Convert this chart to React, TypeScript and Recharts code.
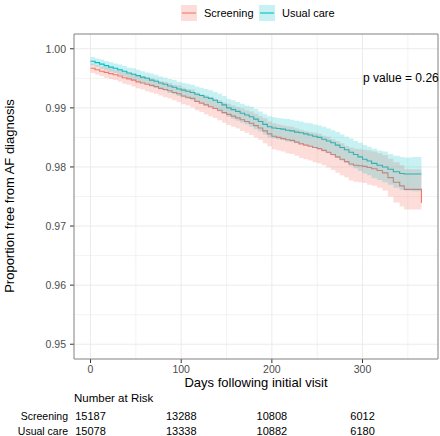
import React from "react";
import {
  ComposedChart,
  Area,
  Line,
  XAxis,
  YAxis,
  CartesianGrid,
  ReferenceArea,
} from "recharts";

// Kaplan-Meier curves (days since initial visit).
const DAYS = [
  0, 5, 10, 15, 20, 25, 30, 35, 40, 45,
  50, 55, 60, 65, 70, 75, 80, 85, 90, 95,
  100, 105, 110, 115, 120, 125, 130, 135, 140, 145,
  150, 155, 160, 165, 170, 175, 180, 185, 190, 195,
  200, 205, 210, 215, 220, 225, 230, 235, 240, 245,
  250, 255, 260, 265, 270, 275, 280, 285, 290, 295,
  300, 305, 310, 316, 322, 328, 334, 341, 346, 355,
  364, 365,
];

const USUAL = [
  0.9979, 0.99765, 0.9974, 0.99715, 0.9969, 0.9967, 0.99645, 0.9962, 0.9959, 0.9957,
  0.99545, 0.9952, 0.995, 0.9947, 0.9945, 0.9942, 0.994, 0.9937, 0.9935, 0.9932,
  0.993, 0.9928, 0.9926, 0.9923, 0.9921, 0.9918, 0.9916, 0.9913, 0.9909, 0.9905,
  0.99, 0.9897, 0.9894, 0.9891, 0.9888, 0.9885, 0.9881, 0.9877, 0.9872, 0.9868,
  0.9866, 0.9865, 0.9864, 0.9862, 0.9861, 0.9859, 0.9858, 0.9856, 0.9854, 0.9852,
  0.985, 0.9847, 0.9844, 0.9841, 0.9837, 0.9833, 0.9829, 0.9825, 0.9821, 0.9817,
  0.9813, 0.981, 0.9806, 0.9803, 0.98, 0.9796, 0.9792, 0.9789, 0.9788, 0.9788,
  0.9788, 0.9788,
];
const USUAL_LO = [
  0.9972, 0.99695, 0.9966, 0.99635, 0.9961, 0.9959, 0.99555, 0.9953, 0.995, 0.9947,
  0.99445, 0.9942, 0.994, 0.9936, 0.9934, 0.9931, 0.9929, 0.9925, 0.9923, 0.992,
  0.9918, 0.9915, 0.9913, 0.991, 0.9908, 0.9904, 0.9902, 0.9899, 0.9894, 0.989,
  0.9885, 0.9881, 0.9878, 0.9875, 0.9872, 0.9868, 0.9864, 0.986, 0.9855, 0.985,
  0.9848, 0.9847, 0.9846, 0.9843, 0.9842, 0.984, 0.9839, 0.9837, 0.9834, 0.9832,
  0.983, 0.9826, 0.9823, 0.982, 0.9815, 0.9811, 0.9807, 0.9802, 0.9798, 0.9793,
  0.9789, 0.9786, 0.9781, 0.9778, 0.9774, 0.977, 0.9765, 0.9761, 0.976, 0.9759,
  0.9759, 0.9759,
];
const USUAL_HI = [
  0.9986, 0.99835, 0.9982, 0.99795, 0.9977, 0.9975, 0.99735, 0.9971, 0.9968, 0.9967,
  0.99645, 0.9962, 0.996, 0.9958, 0.9956, 0.9953, 0.9951, 0.9949, 0.9947, 0.9944,
  0.9942, 0.9941, 0.9939, 0.9936, 0.9934, 0.9932, 0.993, 0.9927, 0.9924, 0.992,
  0.9915, 0.9913, 0.991, 0.9907, 0.9904, 0.9902, 0.9898, 0.9894, 0.9889, 0.9886,
  0.9884, 0.9883, 0.9882, 0.9881, 0.988, 0.9878, 0.9877, 0.9875, 0.9874, 0.9872,
  0.987, 0.9868, 0.9865, 0.9862, 0.9859, 0.9855, 0.9851, 0.9848, 0.9844, 0.9841,
  0.9837, 0.9834, 0.9831, 0.9828, 0.9826, 0.9822, 0.9819, 0.9817, 0.9816, 0.9817,
  0.9817, 0.9817,
];

const SCREENING = [
  0.9967, 0.99645, 0.9962, 0.996, 0.9958, 0.9956, 0.9954, 0.9951, 0.9949, 0.9947,
  0.9944, 0.9942, 0.994, 0.9938, 0.9936, 0.9933, 0.9931, 0.9929, 0.9926, 0.9924,
  0.992, 0.9918, 0.9916, 0.9911, 0.9908, 0.9905, 0.9902, 0.9899, 0.9896, 0.9892,
  0.9889, 0.9886, 0.9883, 0.988, 0.9877, 0.9874, 0.987, 0.9866, 0.9861, 0.9856,
  0.9852, 0.985, 0.9848, 0.9846, 0.9845, 0.9842, 0.9839, 0.9837, 0.9835, 0.9833,
  0.9831, 0.9828, 0.9825, 0.9821, 0.9817, 0.9813, 0.9809, 0.9805, 0.9803, 0.9802,
  0.9801, 0.9799, 0.9797, 0.9794, 0.979, 0.9782, 0.9774, 0.9768, 0.9762, 0.9762,
  0.9762, 0.9739,
];
const SCREENING_LO = [
  0.9959, 0.99565, 0.9954, 0.9951, 0.9949, 0.9947, 0.9944, 0.9941, 0.9939, 0.9936,
  0.9933, 0.9931, 0.9928, 0.9926, 0.9924, 0.9921, 0.9918, 0.9916, 0.9913, 0.991,
  0.9906, 0.9904, 0.9901, 0.9896, 0.9893, 0.9889, 0.9886, 0.9883, 0.9879, 0.9875,
  0.9871, 0.9868, 0.9865, 0.9861, 0.9858, 0.9854, 0.985, 0.9846, 0.984, 0.9835,
  0.983, 0.9828, 0.9826, 0.9823, 0.9822, 0.9819, 0.9815, 0.9813, 0.9811, 0.9808,
  0.9806, 0.9803, 0.9799, 0.9795, 0.979, 0.9786, 0.9782, 0.9777, 0.9775, 0.9774,
  0.9773, 0.977, 0.9768, 0.9765, 0.976, 0.975, 0.974, 0.9733, 0.9728, 0.9728,
  0.9728, 0.9683,
];
const SCREENING_HI = [
  0.9975, 0.99725, 0.997, 0.9969, 0.9967, 0.9965, 0.9964, 0.9961, 0.9959, 0.9958,
  0.9955, 0.9953, 0.9952, 0.995, 0.9948, 0.9945, 0.9944, 0.9942, 0.9939, 0.9938,
  0.9934, 0.9932, 0.9931, 0.9926, 0.9923, 0.9921, 0.9918, 0.9915, 0.9913, 0.9909,
  0.9907, 0.9904, 0.9901, 0.9899, 0.9896, 0.9894, 0.989, 0.9886, 0.9882, 0.9877,
  0.9874, 0.9872, 0.987, 0.9869, 0.9868, 0.9865, 0.9863, 0.9861, 0.9859, 0.9858,
  0.9856, 0.9853, 0.9851, 0.9847, 0.9844, 0.984, 0.9836, 0.9833, 0.9831, 0.983,
  0.9829, 0.9828, 0.9826, 0.9823, 0.982, 0.9814, 0.9808, 0.9803, 0.9796, 0.9796,
  0.9796, 0.9795,
];

const X_TICKS = [0, 100, 200, 300];
const X_MINOR = [50, 150, 250, 350];
const Y_TICKS = [0.95, 0.96, 0.97, 0.98, 0.99, 1.0];
const Y_MINOR = [0.955, 0.965, 0.975, 0.985, 0.995];
const X_DOMAIN = [-18.25, 383.25];
const Y_DOMAIN = [0.9475, 1.0025];

const GROUPS = ["Screening", "Usual care"];
const RISK_SCREENING = [15187, 13288, 10808, 6012];
const RISK_USUAL = [15078, 13338, 10882, 6180];
const P_VALUE = "0.26";

const RED = "#F8766D";
const TEAL = "#00BFC4";
const FONT = '"Liberation Sans", Arial, Helvetica, sans-serif';

const data = DAYS.map((d, i) => ({
  d,
  s: SCREENING[i],
  sBand: [SCREENING_LO[i], SCREENING_HI[i]],
  u: USUAL[i],
  uBand: [USUAL_LO[i], USUAL_HI[i]],
}));

// x tick + the number-at-risk rows sitting under the same position
function DayTick(props: any) {
  const { x, y, payload, index } = props;
  return (
    <g fontFamily={FONT}>
      <text x={x} y={y + 8} textAnchor="middle" fontSize={10.5} fill="#4D4D4D">
        {payload.value}
      </text>
      <text x={x} y={y + 55} textAnchor="middle" fontSize={11} fill="#000">
        {RISK_SCREENING[index]}
      </text>
      <text x={x} y={y + 70} textAnchor="middle" fontSize={11} fill="#000">
        {RISK_USUAL[index]}
      </text>
    </g>
  );
}

export default function App() {
  return (
    <div style={{ position: "absolute", left: 0, top: 0, width: 440, height: 436, background: "#fff" }}>
      <ComposedChart
        width={440}
        height={436}
        data={data}
        margin={{ top: 34, right: 2, bottom: 0, left: 0 }}
      >
        <CartesianGrid
          stroke="#EBEBEB"
          strokeWidth={0.6}
          horizontalValues={Y_MINOR}
          verticalValues={X_MINOR}
        />
        <CartesianGrid
          stroke="#EBEBEB"
          strokeWidth={1}
          horizontalValues={Y_TICKS}
          verticalValues={X_TICKS}
        />
        <XAxis
          dataKey="d"
          type="number"
          domain={X_DOMAIN}
          ticks={X_TICKS}
          interval={0}
          height={77}
          axisLine={false}
          tickSize={4}
          tickMargin={2}
          tickLine={{ stroke: "#333" }}
          tick={<DayTick />}
          allowDataOverflow
        />
        <YAxis
          type="number"
          domain={Y_DOMAIN}
          ticks={Y_TICKS}
          interval={0}
          width={74}
          axisLine={false}
          tickSize={4}
          tickMargin={4}
          tickLine={{ stroke: "#333" }}
          tickFormatter={(v: number) => v.toFixed(2)}
          tick={{ fontSize: 10.5, fill: "#4D4D4D", fontFamily: FONT }}
          allowDataOverflow
        />
        <Line
          type="stepAfter"
          dataKey="s"
          stroke={RED}
          strokeWidth={1.1}
          dot={false}
          activeDot={false}
          isAnimationActive={false}
        />
        <Line
          type="stepAfter"
          dataKey="u"
          stroke={TEAL}
          strokeWidth={1.1}
          dot={false}
          activeDot={false}
          isAnimationActive={false}
        />
        <Area
          type="stepAfter"
          dataKey="sBand"
          stroke="none"
          fill={RED}
          fillOpacity={0.25}
          zIndex={500}
          isAnimationActive={false}
        />
        <Area
          type="stepAfter"
          dataKey="uBand"
          stroke="none"
          fill={TEAL}
          fillOpacity={0.22}
          zIndex={500}
          isAnimationActive={false}
        />
        <ReferenceArea
          x1={X_DOMAIN[0]}
          x2={X_DOMAIN[1]}
          y1={Y_DOMAIN[0]}
          y2={Y_DOMAIN[1]}
          fill="none"
          stroke="#808080"
          strokeWidth={1}
          ifOverflow="visible"
          zIndex={900}
        />
      </ComposedChart>

      <svg
        width={440}
        height={436}
        style={{ position: "absolute", left: 0, top: 0, pointerEvents: "none" }}
        fontFamily={FONT}
      >
        {/* legend */}
        <rect x={181} y={5} width={16} height={16} fill={RED} fillOpacity={0.25} />
        <line x1={182} x2={196} y1={13} y2={13} stroke={RED} strokeWidth={1.1} />
        <text x={204} y={17} fontSize={11} fill="#000">{GROUPS[0]}</text>
        <rect x={259} y={5} width={16} height={16} fill={TEAL} fillOpacity={0.22} />
        <line x1={260} x2={274} y1={13} y2={13} stroke={TEAL} strokeWidth={1.1} />
        <text x={282} y={17} fontSize={11} fill="#000">{GROUPS[1]}</text>

        <text x={363} y={82} fontSize={12} fill="#000">{`p value = ${P_VALUE}`}</text>

        <text
          x={14}
          y={196}
          fontSize={13}
          fill="#000"
          textAnchor="middle"
          transform="rotate(-90 14 196)"
        >
          Proportion free from AF diagnosis
        </text>
        <text x={256} y={387} fontSize={13} fill="#000" textAnchor="middle">
          Days following initial visit
        </text>

        <text x={74} y={401.5} fontSize={11.5} fill="#000">Number at Risk</text>
        <text x={68} y={420} fontSize={10.5} fill="#000" textAnchor="end">{GROUPS[0]}</text>
        <text x={68} y={435} fontSize={10.5} fill="#000" textAnchor="end">{GROUPS[1]}</text>
      </svg>
    </div>
  );
}
